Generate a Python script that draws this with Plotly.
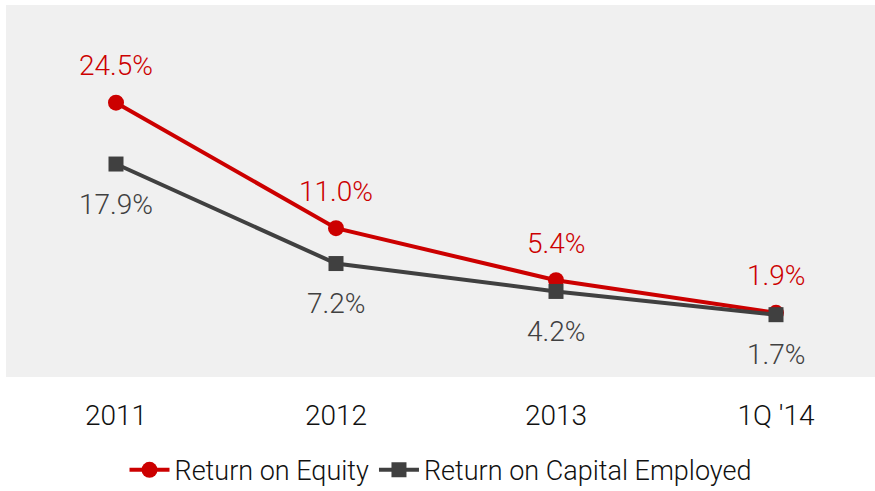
import plotly.graph_objects as go

categories = ["2011", "2012", "2013", "1Q '14"]
roe = [24.5, 11.0, 5.4, 1.9]
roce = [17.9, 7.2, 4.2, 1.7]
roe_labels = ["24.5%", "11.0%", "5.4%", "1.9%"]
roce_labels = ["17.9%", "7.2%", "4.2%", "1.7%"]

FONT = "Liberation Sans Narrow, Arial Narrow, Roboto, sans-serif"
RED = "#CC0000"
GREY = "#404040"

fig = go.Figure()
fig.add_trace(go.Scatter(
    x=categories, y=roe, mode="lines+markers", name="Return on Equity",
    line=dict(color=RED, width=4),
    marker=dict(symbol="circle", size=16, color=RED),
))
fig.add_trace(go.Scatter(
    x=categories, y=roce, mode="lines+markers", name="Return on Capital Employed",
    line=dict(color=GREY, width=4),
    marker=dict(symbol="square", size=15, color=GREY),
))

for i, (v, t) in enumerate(zip(roe, roe_labels)):
    fig.add_annotation(x=i, y=v, xref="x", yref="y", text=t, showarrow=False, yshift=37,
                       font=dict(family=FONT, size=28, color=RED, weight=300))
for i, (v, t) in enumerate(zip(roce, roce_labels)):
    fig.add_annotation(x=i, y=v, xref="x", yref="y", text=t, showarrow=False, yshift=-40,
                       font=dict(family=FONT, size=28, color=GREY, weight=300))

fig.update_layout(
    width=875, height=491,
    margin=dict(l=6, r=0, t=5, b=114, autoexpand=False),
    paper_bgcolor="white",
    plot_bgcolor="#F0F0F0",
    font=dict(family=FONT, size=28, color="#111111", weight=300),
    showlegend=True,
    legend=dict(orientation="h", x=0.5, xanchor="center", y=-0.185, yanchor="top",
                font=dict(family=FONT, size=27, color="#111111", weight=300),
                itemwidth=40, tracegroupgap=0, bgcolor="rgba(0,0,0,0)"),
    xaxis=dict(type="category", range=[-0.5, 3.45], showgrid=False, zeroline=False,
               showline=False, ticks="", automargin=False, ticklabelstandoff=19,
               tickfont=dict(family=FONT, size=28, color="#111111", weight=300)),
    yaxis=dict(range=[-5, 35], showgrid=False, zeroline=False, showticklabels=False,
               showline=False, ticks="", automargin=False),
)

fig.write_html("out.html",
               config={"displayModeBar": False},
               post_script="document.body.style.margin='0';document.body.style.overflow='hidden';")
